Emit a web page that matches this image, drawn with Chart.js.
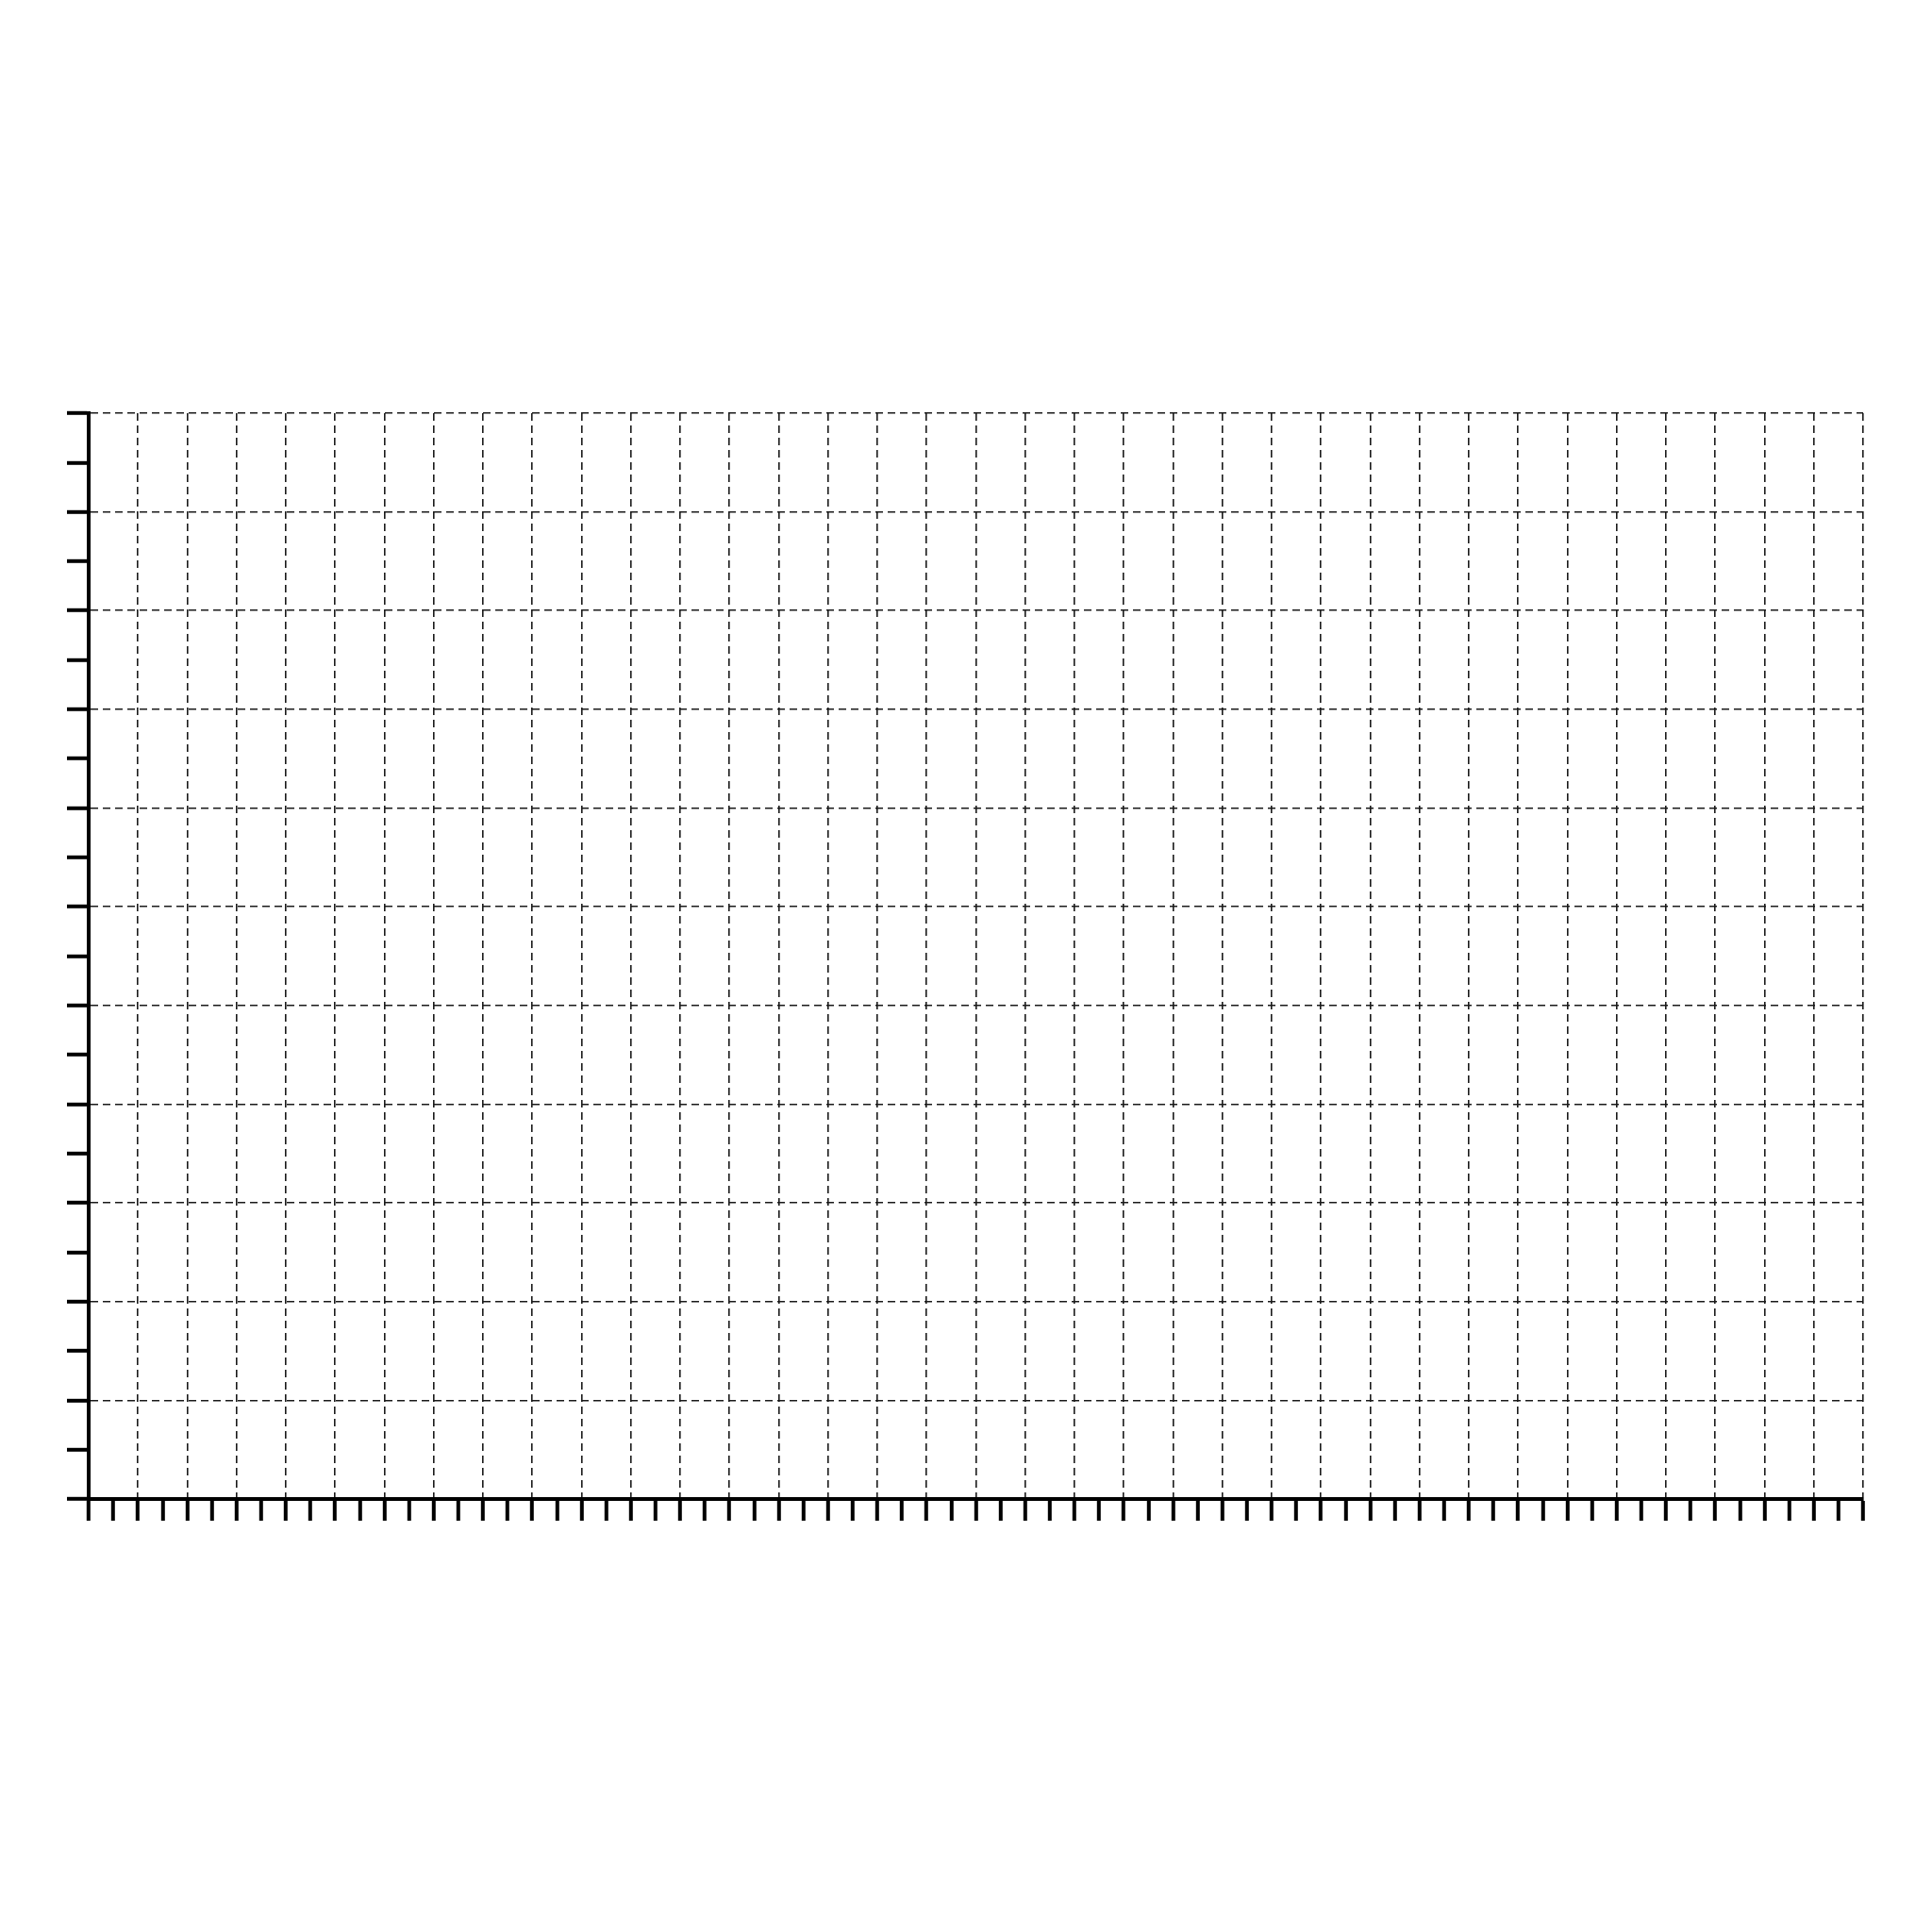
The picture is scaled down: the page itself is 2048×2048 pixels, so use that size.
<!DOCTYPE html>
<html lang="en">
<head>
    <meta charset="UTF-8">
    <title>Empty Grid</title>
    <script src="https://cdn.jsdelivr.net/npm/chart.js"></script>
    <style>
        html, body { margin: 0; padding: 0; background: #fff; }
        #gridChart { display: block; }
    </style>
</head>
<body>
    <canvas id="gridChart" width="2048" height="2048"></canvas>

    <script>
        // axis ranges (minor tick units): 36 x 11 grid cells, with a half tick in between
        const xRange = [0, 72];
        const yRange = [0, 22];
        const majorEvery = 2;
        // no plotted data in the picture, just the empty grid
        const points = [];

        const dashedGrid = (ctx) => (ctx.tick && ctx.tick.value % majorEvery === 0) ? '#1a1a1a' : 'rgba(0,0,0,0)';

        const ctx = document.getElementById('gridChart').getContext('2d');
        new Chart(ctx, {
            type: 'scatter',
            data: {
                datasets: [{
                    data: points,
                    showLine: false
                }]
            },
            options: {
                responsive: false,
                animation: false,
                devicePixelRatio: 1,
                layout: {
                    padding: { left: 71, top: 438, right: 73, bottom: 436 }
                },
                plugins: {
                    legend: { display: false },
                    tooltip: { enabled: false }
                },
                scales: {
                    x: {
                        type: 'linear',
                        min: xRange[0],
                        max: xRange[1],
                        ticks: { display: false, stepSize: 1, autoSkip: false },
                        grid: {
                            color: dashedGrid,
                            lineWidth: 1.6,
                            tickColor: '#000',
                            tickWidth: 4,
                            tickLength: 23
                        },
                        border: { display: true, color: '#000', width: 4, dash: [8, 5] }
                    },
                    y: {
                        type: 'linear',
                        min: yRange[0],
                        max: yRange[1],
                        ticks: { display: false, stepSize: 1, autoSkip: false },
                        grid: {
                            color: dashedGrid,
                            lineWidth: 1.6,
                            tickColor: '#000',
                            tickWidth: 4,
                            tickLength: 23
                        },
                        border: { display: true, color: '#000', width: 4, dash: [8, 5] }
                    }
                }
            }
        });
    </script>
</body>
</html>
